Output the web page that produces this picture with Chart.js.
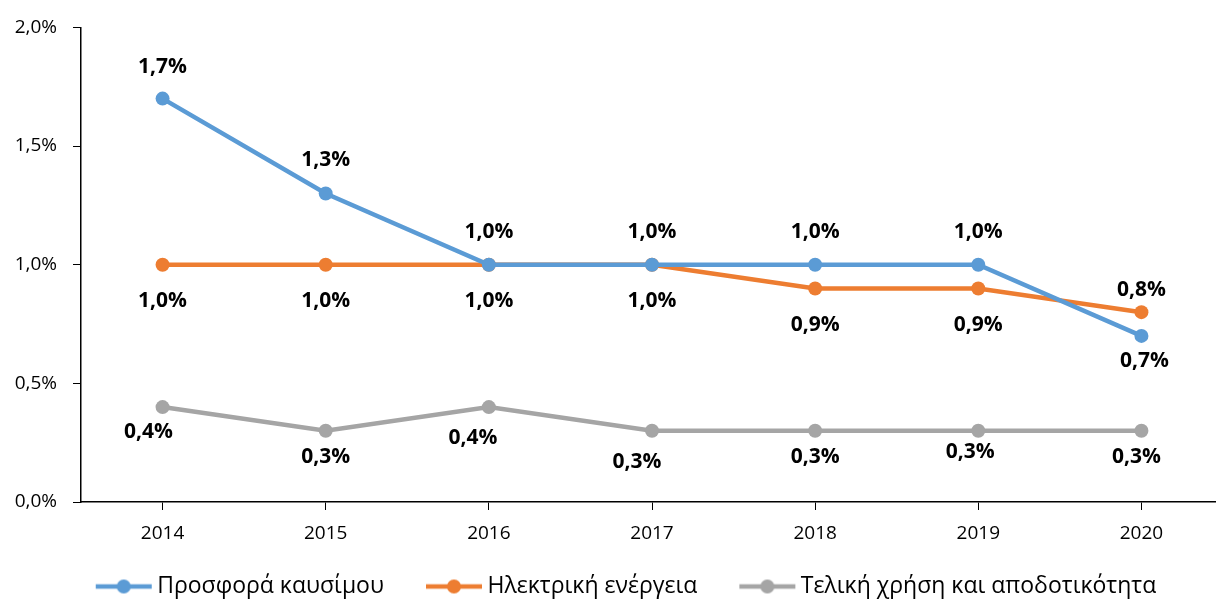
<!DOCTYPE html>
<html>
<head>
<meta charset="utf-8">
<script src="https://cdn.jsdelivr.net/npm/chart.js@4.4.0/dist/chart.umd.min.js"></script>
<style>
  html, body { margin: 0; padding: 0; background: #fff; overflow: hidden; }
  #wrap { width: 1230px; height: 599px; }
</style>
</head>
<body>
<div id="wrap"><canvas id="myChart"></canvas></div>
<script>
// data
var years = ["2014", "2015", "2016", "2017", "2018", "2019", "2020"];
var fuelSupply = [1.7, 1.3, 1.0, 1.0, 1.0, 1.0, 0.7];
var electricity = [1.0, 1.0, 1.0, 1.0, 0.9, 0.9, 0.8];
var finalUse = [0.4, 0.3, 0.4, 0.3, 0.3, 0.3, 0.3];
var seriesNames = ["Προσφορά καυσίμου", "Ηλεκτρική ενέργεια", "Τελική χρήση και αποδοτικότητα"];
var yTicks = [0, 0.5, 1.0, 1.5, 2.0];

// label placement (pixels, relative to the point)
var labelOffsets = [
    [[0, -32], [0, -33], [0, -33], [0, -33], [0, -33], [0, -33], [3, 25]],
    [[0, 36], [0, 36], [0, 36], [0, 36], [0, 37], [0, 37], [0, -22]],
    [[-14, 25], [0, 26], [-16, 31], [-15, 31], [0, 26], [-8, 21], [-5, 26]]
];

var colors = ['#5B9BD5', '#ED7D31', '#A5A5A5'];
var fmt = function (v) { return v.toFixed(1).replace('.', ',') + '%'; };

// legend marker: line with a dot, extra blank room on the left for spacing
function legendIcon(color) {
    var c = document.createElement('canvas');
    c.width = 90; c.height = 16;
    var g = c.getContext('2d');
    g.strokeStyle = color; g.lineWidth = 4.5;
    g.beginPath(); g.moveTo(31, 8); g.lineTo(87, 8); g.stroke();
    g.fillStyle = color;
    g.beginPath(); g.arc(59, 8, 7, 0, Math.PI * 2); g.fill();
    return c;
}

var valueLabels = {
    id: 'valueLabels',
    afterDatasetsDraw: function (chart) {
        var ctx = chart.ctx;
        ctx.save();
        ctx.font = 'bold 21px "Open Sans", sans-serif';
        ctx.fillStyle = '#000';
        ctx.textAlign = 'center';
        ctx.textBaseline = 'middle';
        chart.data.datasets.forEach(function (ds, i) {
            chart.getDatasetMeta(i).data.forEach(function (pt, j) {
                var off = labelOffsets[i][j];
                ctx.fillText(fmt(ds.data[j]), pt.x + off[0], pt.y + off[1]);
            });
        });
        ctx.restore();
    }
};

var series = [fuelSupply, electricity, finalUse];
var datasets = series.map(function (d, i) {
    return {
        label: seriesNames[i],
        data: d,
        borderColor: colors[i],
        backgroundColor: colors[i],
        borderWidth: 4.5,
        pointRadius: 7,
        pointHoverRadius: 7,
        pointBorderWidth: 0,
        pointStyle: 'circle',
        tension: 0
    };
});

var ctx = document.getElementById('myChart').getContext('2d');
var chart = new Chart(ctx, {
    type: 'line',
    data: { labels: years, datasets: datasets },
    plugins: [valueLabels],
    options: {
        responsive: true,
        maintainAspectRatio: false,
        animation: false,
        layout: { padding: { top: 27, right: 0, left: 0, bottom: -9 } },
        plugins: {
            tooltip: { enabled: false },
            legend: {
                position: 'bottom',
                labels: {
                    usePointStyle: true,
                    pointStyleWidth: 72,
                    boxHeight: 16,
                    padding: 20,
                    color: '#000',
                    font: { family: '"Open Sans", sans-serif', size: 23 },
                    generateLabels: function (chart) {
                        return chart.data.datasets.map(function (ds, i) {
                            return {
                                text: ds.label,
                                pointStyle: legendIcon(colors[i]),
                                fillStyle: colors[i],
                                strokeStyle: colors[i],
                                lineWidth: 0,
                                hidden: false,
                                datasetIndex: i
                            };
                        });
                    }
                }
            }
        },
        scales: {
            x: {
                offset: true,
                grid: { display: true, drawOnChartArea: false, offset: false, color: '#000', tickLength: 8, tickColor: '#000' },
                border: { color: '#000', width: 1.5 },
                ticks: { color: '#000', padding: 12, font: { family: '"Open Sans", sans-serif', size: 19 } },
                afterFit: function (s) { s.height = 53; }
            },
            y: {
                min: 0,
                max: 2,
                afterBuildTicks: function (s) { s.ticks = yTicks.map(function (v) { return { value: v }; }); },
                grid: { display: true, drawOnChartArea: false, tickLength: 8, tickColor: '#000' },
                border: { color: '#000', width: 1.5 },
                ticks: {
                    color: '#000',
                    padding: 16,
                    font: { family: '"Open Sans", sans-serif', size: 19 },
                    callback: function (v) { return fmt(v); }
                },
                afterFit: function (s) { s.width = 81; }
            }
        }
    }
});
</script>
</body>
</html>
